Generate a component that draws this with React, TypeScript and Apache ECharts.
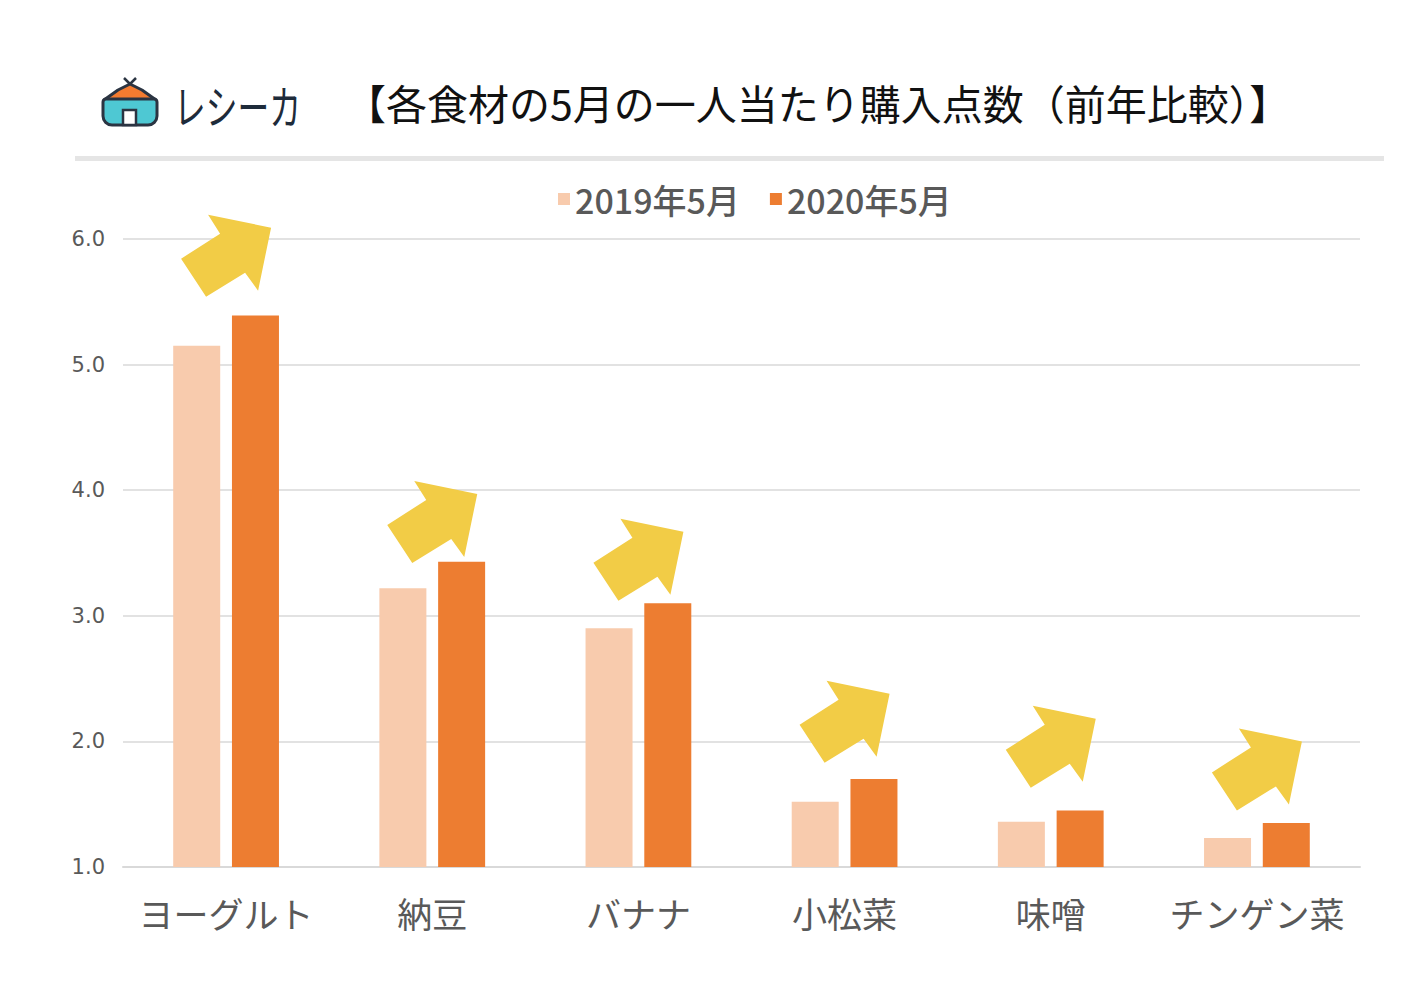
import React, { useEffect, useRef } from "react";
import * as echarts from "echarts";

const categories = ["ヨーグルト", "納豆", "バナナ", "小松菜", "味噌", "チンゲン菜"];
const values2019 = [5.15, 3.22, 2.9, 1.52, 1.36, 1.23];
const values2020 = [5.39, 3.43, 3.1, 1.7, 1.45, 1.35];
const arrowTipLevels = [6.09, 3.97, 3.67, 2.38, 2.18, 2.0];
const seriesNames = ["2019年5月", "2020年5月"];
const yTicks = { min: 1, max: 6, interval: 1 };

const FONT = '"Noto Sans CJK JP", "Noto Sans", sans-serif';

export default function App() {
  const ref = useRef<HTMLDivElement>(null);
  useEffect(() => {
    if (!ref.current) return;
    const chart = echarts.init(ref.current, undefined, { renderer: "svg" });
    // arrow shape relative to its tip (pixels)
    const arrowShape = [
      [-90, 31], [-51, 6], [-63, -13], [0, 0], [-13, 63], [-26, 45], [-65, 69],
    ];
    const option: any = {
      animation: false,
      backgroundColor: "#ffffff",
      textStyle: { fontFamily: FONT },
      title: {
        text: "【各食材の5月の一人当たり購入点数（前年比較）】",
        left: 340,
        top: 76,
        textStyle: { fontFamily: FONT, fontSize: 41, fontWeight: "normal", color: "#111111" },
      },
      legend: {
        data: seriesNames,
        left: 553,
        top: 177,
        icon: "rect",
        itemWidth: 12,
        itemHeight: 12,
        itemGap: 30,
        textStyle: { fontFamily: FONT, fontSize: 34, fontWeight: 500, color: "#595959" },
      },
      grid: { left: 123, right: 65, top: 239, bottom: 117 },
      xAxis: {
        type: "category",
        data: categories,
        axisLine: { lineStyle: { color: "#D9D9D9", width: 2 } },
        axisTick: { show: false },
        axisLabel: { interval: 0, fontFamily: FONT, fontSize: 35, color: "#595959", margin: 28 },
      },
      yAxis: {
        type: "value",
        min: yTicks.min,
        max: yTicks.max,
        interval: yTicks.interval,
        axisLine: { show: false },
        axisTick: { show: false },
        splitLine: { lineStyle: { color: "#D9D9D9", width: 1.5 } },
        axisLabel: {
          fontFamily: '"DejaVu Sans", sans-serif',
          fontSize: 21,
          color: "#595959",
          margin: 18,
          formatter: (v: number) => v.toFixed(1),
        },
      },
      series: [
        {
          name: seriesNames[0],
          type: "bar",
          data: values2019,
          barWidth: 47,
          barGap: "25%",
          itemStyle: { color: "#F8CBAD" },
        },
        {
          name: seriesNames[1],
          type: "bar",
          data: values2020,
          barWidth: 47,
          itemStyle: { color: "#ED7D31" },
        },
        {
          name: "arrows",
          type: "custom",
          clip: false,
          z: 10,
          data: arrowTipLevels.map((v, i) => [i, v]),
          renderItem: (params: any, api: any) => {
            const p = api.coord([api.value(0), api.value(1)]);
            const tx = p[0] + 45;
            const ty = p[1];
            return {
              type: "polygon",
              shape: { points: arrowShape.map(([dx, dy]) => [tx + dx, ty + dy]) },
              style: { fill: "#F2CC46" },
            };
          },
        },
      ],
      graphic: [
        {
          type: "rect",
          shape: { x: 75, y: 156, width: 1309, height: 5 },
          style: { fill: "#E5E5E5" },
        },
        // logo house
        {
          type: "group",
          children: [
            { type: "line", shape: { x1: 124, y1: 78, x2: 133, y2: 87 }, style: { stroke: "#2B3442", lineWidth: 2.5 } },
            { type: "line", shape: { x1: 136, y1: 78, x2: 127, y2: 87 }, style: { stroke: "#2B3442", lineWidth: 2.5 } },
            {
              type: "polygon",
              shape: { points: [[104, 100], [118, 90], [130, 84], [142, 90], [156, 100]] },
              style: { fill: "#F47B30", stroke: "#2B3442", lineWidth: 3, lineJoin: "round" },
            },
            {
              type: "rect",
              shape: { x: 103, y: 99, width: 54, height: 26, r: [3, 3, 9, 9] },
              style: { fill: "#4EC8D3", stroke: "#2B3442", lineWidth: 3 },
            },
            {
              type: "rect",
              shape: { x: 123, y: 110, width: 13, height: 15 },
              style: { fill: "#FFFFFF", stroke: "#2B3442", lineWidth: 2.5 },
            },
          ],
        },
        {
          type: "text",
          x: 174,
          y: 104,
          scaleX: 0.69,
          style: {
            text: "レシーカ",
            fontFamily: FONT,
            fontSize: 46,
            fontWeight: 400,
            fill: "#1E2B3A",
            verticalAlign: "middle",
            align: "left",
          },
        },
      ],
    };
    chart.setOption(option);
    return () => chart.dispose();
  }, []);
  return (
    <div
      ref={ref}
      style={{ position: "fixed", left: 0, top: 0, width: 1425, height: 984, background: "#fff" }}
    />
  );
}
